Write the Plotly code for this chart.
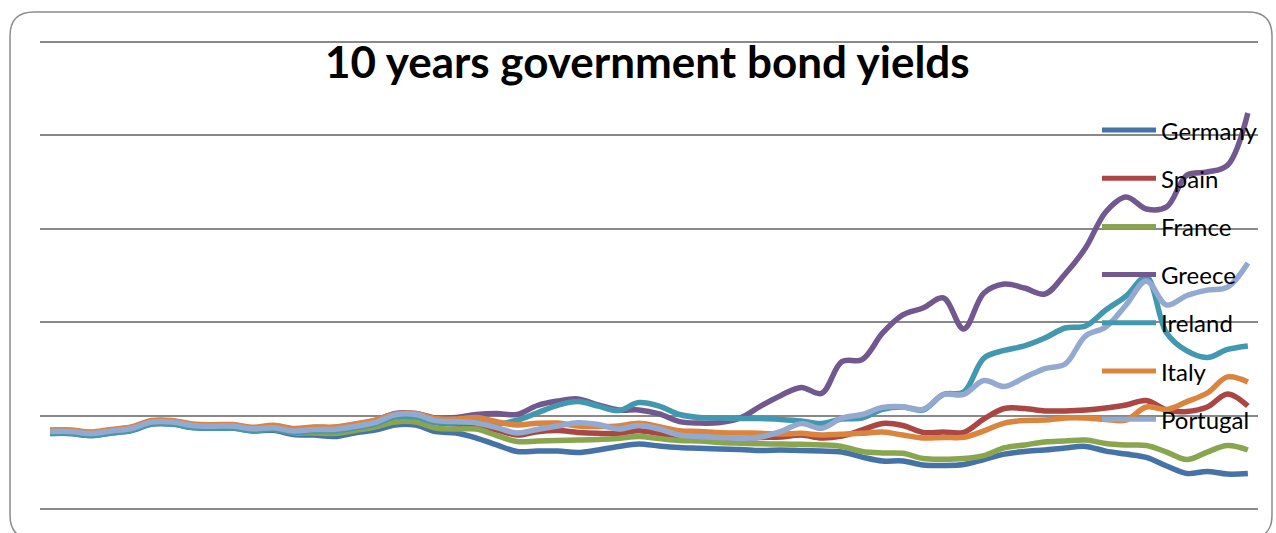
import plotly.graph_objects as go

# Monthly 10-year government bond yields (%), Jan 2007 - Dec 2011
months = [f"{y}-{m:02d}" for y in range(2007, 2012) for m in range(1, 13)]

germany = [4.04, 4.04, 3.93, 4.07, 4.20, 4.55, 4.55, 4.36, 4.32, 4.33,
           4.18, 4.21, 3.99, 3.96, 3.88, 4.07, 4.22, 4.50, 4.49, 4.14,
           4.07, 3.80, 3.43, 3.08, 3.10, 3.10, 3.02, 3.16, 3.35, 3.48,
           3.37, 3.29, 3.25, 3.21, 3.19, 3.13, 3.16, 3.13, 3.10, 3.05,
           2.78, 2.57, 2.57, 2.36, 2.33, 2.38, 2.65, 2.94, 3.08, 3.16,
           3.27, 3.35, 3.10, 2.94, 2.76, 2.30, 1.90, 2.01, 1.87, 1.90]

spain = [4.18, 4.18, 4.07, 4.21, 4.34, 4.69, 4.69, 4.50, 4.46, 4.47,
         4.32, 4.37, 4.20, 4.28, 4.28, 4.44, 4.65, 4.96, 4.95, 4.63,
         4.55, 4.44, 4.23, 3.96, 4.14, 4.20, 4.10, 4.05, 4.05, 4.19,
         4.04, 3.85, 3.83, 3.77, 3.77, 3.83, 3.85, 3.96, 3.80, 3.91,
         4.23, 4.58, 4.47, 4.10, 4.12, 4.10, 4.82, 5.38, 5.38, 5.25,
         5.25, 5.30, 5.41, 5.57, 5.81, 5.30, 5.22, 5.46, 6.16, 5.51]

france = [4.10, 4.10, 3.99, 4.13, 4.26, 4.61, 4.61, 4.42, 4.38, 4.39,
          4.24, 4.27, 4.07, 4.07, 4.04, 4.20, 4.39, 4.66, 4.65, 4.33,
          4.28, 4.28, 3.93, 3.61, 3.64, 3.67, 3.69, 3.72, 3.78, 3.88,
          3.77, 3.67, 3.64, 3.56, 3.52, 3.49, 3.48, 3.46, 3.43, 3.35,
          3.08, 3.00, 2.98, 2.70, 2.66, 2.70, 2.86, 3.27, 3.43, 3.59,
          3.64, 3.69, 3.51, 3.43, 3.40, 3.05, 2.65, 3.05, 3.40, 3.16]

greece = [4.20, 4.20, 4.09, 4.23, 4.36, 4.71, 4.71, 4.52, 4.48, 4.49,
          4.34, 4.45, 4.28, 4.36, 4.36, 4.52, 4.73, 5.12, 5.11, 4.87,
          4.90, 5.06, 5.11, 5.06, 5.54, 5.78, 5.89, 5.57, 5.30, 5.30,
          5.09, 4.68, 4.60, 4.63, 4.87, 5.51, 6.08, 6.51, 6.19, 7.89,
          8.00, 9.41, 10.39, 10.76, 11.30, 9.64, 11.56, 12.04, 11.83, 11.51,
          12.58, 13.97, 15.90, 16.70, 16.06, 16.17, 17.88, 18.04, 18.40, 21.20]

ireland = [4.04, 4.04, 3.93, 4.07, 4.20, 4.55, 4.55, 4.36, 4.32, 4.33,
           4.18, 4.27, 4.10, 4.18, 4.18, 4.34, 4.55, 4.93, 4.92, 4.63,
           4.61, 4.66, 4.55, 4.75, 5.15, 5.55, 5.75, 5.51, 5.27, 5.70,
           5.51, 5.06, 4.90, 4.87, 4.84, 4.84, 4.79, 4.71, 4.58, 4.82,
           4.87, 5.33, 5.46, 5.30, 6.13, 6.26, 8.08, 8.49, 8.73, 9.15,
           9.69, 9.80, 10.65, 11.40, 12.42, 9.42, 8.46, 8.11, 8.54, 8.73]

italy = [4.23, 4.23, 4.12, 4.26, 4.39, 4.74, 4.74, 4.55, 4.51, 4.52,
         4.37, 4.48, 4.31, 4.39, 4.39, 4.55, 4.76, 5.09, 5.11, 4.84,
         4.82, 4.90, 4.67, 4.50, 4.59, 4.60, 4.44, 4.41, 4.44, 4.59,
         4.41, 4.19, 4.15, 4.08, 4.07, 4.05, 4.01, 4.05, 3.96, 4.00,
         4.05, 4.12, 3.96, 3.80, 3.83, 3.84, 4.18, 4.60, 4.74, 4.76,
         4.87, 4.87, 4.79, 4.76, 5.46, 5.33, 5.75, 6.21, 7.07, 6.80]

portugal = [4.15, 4.15, 4.04, 4.18, 4.31, 4.66, 4.66, 4.47, 4.43, 4.44,
            4.29, 4.35, 4.18, 4.26, 4.26, 4.42, 4.63, 5.04, 5.06, 4.73,
            4.68, 4.60, 4.36, 4.07, 4.26, 4.44, 4.62, 4.52, 4.28, 4.47,
            4.28, 3.96, 3.88, 3.83, 3.78, 3.85, 4.15, 4.57, 4.32, 4.86,
            5.06, 5.44, 5.48, 5.33, 6.13, 6.13, 6.88, 6.56, 7.04, 7.52,
            7.76, 9.26, 9.74, 10.92, 12.21, 10.92, 11.43, 11.72, 11.88, 13.17]

countries = ["Germany", "Spain", "France", "Greece", "Ireland", "Italy", "Portugal"]
colors = ["#4572A7", "#AA4643", "#89A54E", "#71588F", "#4198AF", "#DB843D", "#93A9CF"]
series = [germany, spain, france, greece, ireland, italy, portugal]

Y_MIN, Y_MAX, Y_STEP = 0, 25, 5
GRID_COLOR = "#898989"

W, H = 1276, 533
ML, MR, MT, MB = 40, 18, 42, 24
PW, PH = W - ML - MR, H - MT - MB


def px(x):
    return (x - ML) / PW


def py(y):
    return (H - MB - y) / PH


fig = go.Figure()
for name, color, vals in zip(countries, colors, series):
    fig.add_trace(go.Scatter(
        x=months, y=vals, name=name, mode="lines",
        line=dict(color=color, width=5.5, shape="spline", smoothing=1.0),
        showlegend=False,
    ))

shapes = []
annotations = []

# Gridlines along the bottom and top edges of the plotting area
for edge in (0, 1):
    shapes.append(dict(type="line", xref="paper", yref="paper", x0=0, x1=1,
                       y0=edge, y1=edge, layer="below",
                       line=dict(color=GRID_COLOR, width=2)))

# Legend drawn beside the series, one swatch + label per country
for i, (name, color) in enumerate(zip(countries, colors)):
    yc = 130 + i * 48.2
    shapes.append(dict(type="line", xref="paper", yref="paper",
                       x0=px(1102), x1=px(1156), y0=py(yc), y1=py(yc),
                       line=dict(color=color, width=5)))
    annotations.append(dict(text=name, xref="paper", yref="paper",
                            x=px(1159), y=py(yc), xanchor="left", yanchor="middle",
                            showarrow=False,
                            font=dict(family="Lato", size=24, color="#000000")))

annotations.append(dict(text="<b>10 years government bond yields</b>",
                        xref="paper", yref="paper", x=px(647), y=py(61),
                        xanchor="center", yanchor="middle", showarrow=False,
                        font=dict(family="Lato", size=44, color="#000000")))

# Rounded chart frame
L, T, R, B, r = 10, 12, 1272, 539, 24
frame = (f"M {px(L + r)},{py(T)} L {px(R - r)},{py(T)} "
         f"Q {px(R)},{py(T)} {px(R)},{py(T + r)} L {px(R)},{py(B - r)} "
         f"Q {px(R)},{py(B)} {px(R - r)},{py(B)} L {px(L + r)},{py(B)} "
         f"Q {px(L)},{py(B)} {px(L)},{py(B - r)} L {px(L)},{py(T + r)} "
         f"Q {px(L)},{py(T)} {px(L + r)},{py(T)} Z")
shapes.append(dict(type="path", xref="paper", yref="paper", path=frame,
                   line=dict(color="#8C8C8C", width=1.5), layer="below"))

fig.update_layout(
    width=W, height=H, autosize=False,
    margin=dict(l=ML, r=MR, t=MT, b=MB),
    paper_bgcolor="white", plot_bgcolor="white",
    shapes=shapes, annotations=annotations,
    xaxis=dict(type="category", range=[-0.5, len(months) - 0.5],
               showgrid=False, showticklabels=False, zeroline=False,
               showline=False, ticks=""),
    yaxis=dict(range=[Y_MIN, Y_MAX], dtick=Y_STEP, showgrid=True,
               gridcolor=GRID_COLOR, gridwidth=2, showticklabels=False,
               zeroline=False, showline=False, ticks=""),
)

fig.write_html("out.html")
